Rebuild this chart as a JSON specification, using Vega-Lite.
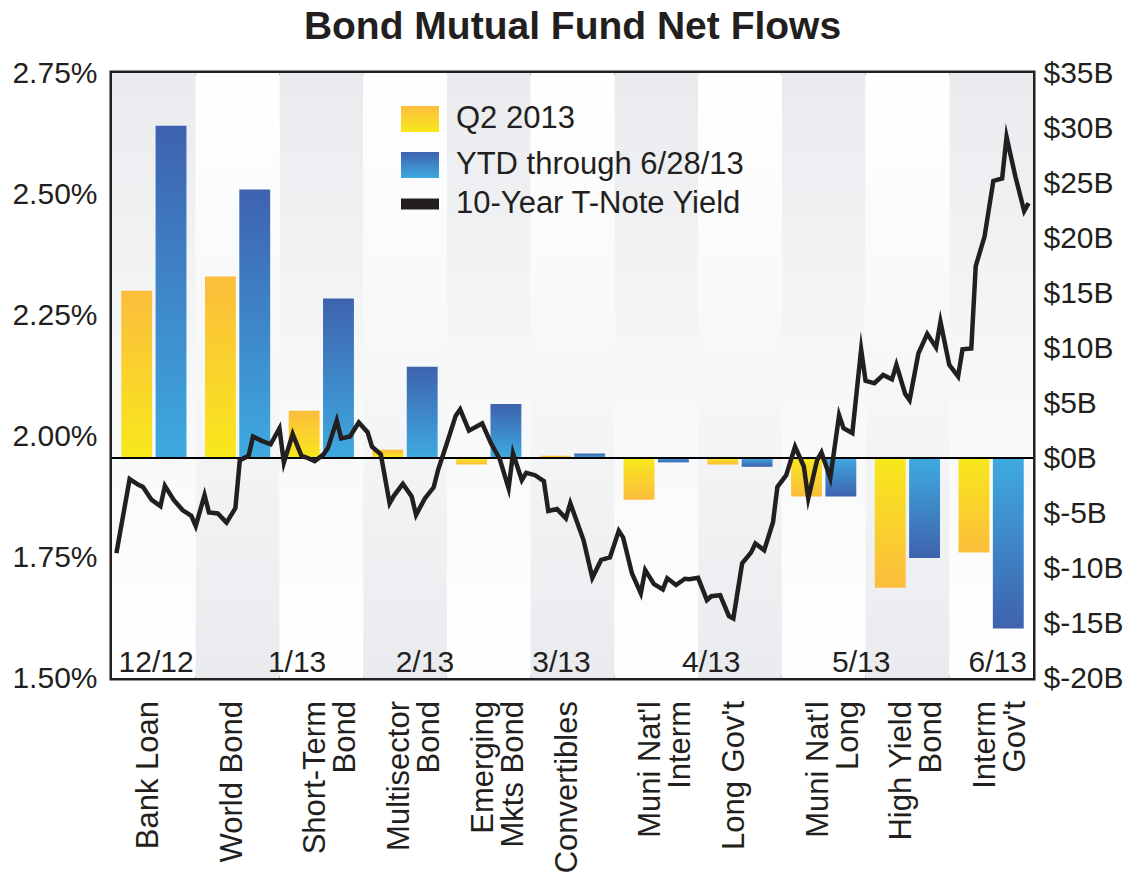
{
  "$schema": "https://vega.github.io/schema/vega-lite/v6.json",
  "width": 921,
  "height": 605,
  "autosize": {"type": "none"},
  "padding": {"left": 112, "top": 73, "right": 99, "bottom": 195},
  "background": "white",
  "title": {
    "text": "Bond Mutual Fund Net Flows",
    "font": "Liberation Sans",
    "fontSize": 39,
    "fontWeight": "bold",
    "color": "#231f20",
    "anchor": "middle",
    "frame": "group",
    "baseline": "alphabetic",
    "offset": -20
  },
  "datasets": {
    "categories": [
      {"category": "Bank Loan", "label": "Bank Loan"},
      {"category": "World Bond", "label": "World Bond"},
      {"category": "Short-Term Bond", "label": "Short-Term\nBond"},
      {"category": "Multisector Bond", "label": "Multisector\nBond"},
      {"category": "Emerging Mkts Bond", "label": "Emerging\nMkts Bond"},
      {"category": "Convertibles", "label": "Convertibles"},
      {"category": "Muni Nat'l Interm", "label": "Muni Nat'l\nInterm"},
      {"category": "Long Gov't", "label": "Long Gov't"},
      {"category": "Muni Nat'l Long", "label": "Muni Nat'l\nLong"},
      {"category": "High Yield Bond", "label": "High Yield\nBond"},
      {"category": "Interm Gov't", "label": "Interm\nGov't"}
    ],
    "funds": [
      {"category": "Bank Loan", "series": "Q2 2013", "flow": 15.2},
      {"category": "Bank Loan", "series": "YTD through 6/28/13", "flow": 30.2},
      {"category": "World Bond", "series": "Q2 2013", "flow": 16.5},
      {"category": "World Bond", "series": "YTD through 6/28/13", "flow": 24.4},
      {"category": "Short-Term Bond", "series": "Q2 2013", "flow": 4.3},
      {"category": "Short-Term Bond", "series": "YTD through 6/28/13", "flow": 14.5},
      {"category": "Multisector Bond", "series": "Q2 2013", "flow": 0.75},
      {"category": "Multisector Bond", "series": "YTD through 6/28/13", "flow": 8.3},
      {"category": "Emerging Mkts Bond", "series": "Q2 2013", "flow": -0.6},
      {"category": "Emerging Mkts Bond", "series": "YTD through 6/28/13", "flow": 4.9},
      {"category": "Convertibles", "series": "Q2 2013", "flow": 0.2},
      {"category": "Convertibles", "series": "YTD through 6/28/13", "flow": 0.4},
      {"category": "Muni Nat'l Interm", "series": "Q2 2013", "flow": -3.8},
      {"category": "Muni Nat'l Interm", "series": "YTD through 6/28/13", "flow": -0.4},
      {"category": "Long Gov't", "series": "Q2 2013", "flow": -0.6},
      {"category": "Long Gov't", "series": "YTD through 6/28/13", "flow": -0.8},
      {"category": "Muni Nat'l Long", "series": "Q2 2013", "flow": -3.5},
      {"category": "Muni Nat'l Long", "series": "YTD through 6/28/13", "flow": -3.5},
      {"category": "High Yield Bond", "series": "Q2 2013", "flow": -11.8},
      {"category": "High Yield Bond", "series": "YTD through 6/28/13", "flow": -9.1},
      {"category": "Interm Gov't", "series": "Q2 2013", "flow": -8.6},
      {"category": "Interm Gov't", "series": "YTD through 6/28/13", "flow": -15.5}
    ],
    "yields": [
      {"date": "2012-12-03", "yield": 1.758},
      {"date": "2012-12-06", "yield": 1.911},
      {"date": "2012-12-08", "yield": 1.899},
      {"date": "2012-12-09", "yield": 1.895},
      {"date": "2012-12-11", "yield": 1.868},
      {"date": "2012-12-13", "yield": 1.855},
      {"date": "2012-12-14", "yield": 1.897},
      {"date": "2012-12-16", "yield": 1.868},
      {"date": "2012-12-18", "yield": 1.847},
      {"date": "2012-12-20", "yield": 1.835},
      {"date": "2012-12-21", "yield": 1.814},
      {"date": "2012-12-23", "yield": 1.878},
      {"date": "2012-12-24", "yield": 1.842},
      {"date": "2012-12-26", "yield": 1.840},
      {"date": "2012-12-28", "yield": 1.821},
      {"date": "2012-12-30", "yield": 1.851},
      {"date": "2012-12-31", "yield": 1.950},
      {"date": "2013-01-02", "yield": 1.959},
      {"date": "2013-01-03", "yield": 1.999},
      {"date": "2013-01-05", "yield": 1.990},
      {"date": "2013-01-07", "yield": 1.983},
      {"date": "2013-01-09", "yield": 2.016},
      {"date": "2013-01-10", "yield": 1.945},
      {"date": "2013-01-12", "yield": 2.004},
      {"date": "2013-01-14", "yield": 1.959},
      {"date": "2013-01-15", "yield": 1.956},
      {"date": "2013-01-17", "yield": 1.948},
      {"date": "2013-01-19", "yield": 1.962},
      {"date": "2013-01-20", "yield": 1.975},
      {"date": "2013-01-22", "yield": 2.032},
      {"date": "2013-01-23", "yield": 1.995},
      {"date": "2013-01-25", "yield": 1.999},
      {"date": "2013-01-27", "yield": 2.028},
      {"date": "2013-01-29", "yield": 2.008},
      {"date": "2013-01-30", "yield": 1.978},
      {"date": "2013-02-01", "yield": 1.962},
      {"date": "2013-02-03", "yield": 1.861},
      {"date": "2013-02-04", "yield": 1.877},
      {"date": "2013-02-06", "yield": 1.901},
      {"date": "2013-02-08", "yield": 1.875},
      {"date": "2013-02-09", "yield": 1.837},
      {"date": "2013-02-11", "yield": 1.871},
      {"date": "2013-02-13", "yield": 1.894},
      {"date": "2013-02-14", "yield": 1.930},
      {"date": "2013-02-16", "yield": 1.985},
      {"date": "2013-02-18", "yield": 2.042},
      {"date": "2013-02-19", "yield": 2.055},
      {"date": "2013-02-21", "yield": 2.011},
      {"date": "2013-02-24", "yield": 2.026},
      {"date": "2013-02-26", "yield": 1.985},
      {"date": "2013-02-28", "yield": 1.952},
      {"date": "2013-03-02", "yield": 1.892},
      {"date": "2013-03-03", "yield": 1.964},
      {"date": "2013-03-05", "yield": 1.909},
      {"date": "2013-03-06", "yield": 1.924},
      {"date": "2013-03-08", "yield": 1.919},
      {"date": "2013-03-10", "yield": 1.907},
      {"date": "2013-03-11", "yield": 1.845},
      {"date": "2013-03-13", "yield": 1.849},
      {"date": "2013-03-15", "yield": 1.830},
      {"date": "2013-03-16", "yield": 1.861},
      {"date": "2013-03-19", "yield": 1.785},
      {"date": "2013-03-21", "yield": 1.707},
      {"date": "2013-03-23", "yield": 1.744},
      {"date": "2013-03-25", "yield": 1.749},
      {"date": "2013-03-27", "yield": 1.804},
      {"date": "2013-03-28", "yield": 1.790},
      {"date": "2013-03-30", "yield": 1.716},
      {"date": "2013-04-01", "yield": 1.675},
      {"date": "2013-04-02", "yield": 1.723},
      {"date": "2013-04-04", "yield": 1.694},
      {"date": "2013-04-06", "yield": 1.683},
      {"date": "2013-04-07", "yield": 1.706},
      {"date": "2013-04-09", "yield": 1.692},
      {"date": "2013-04-11", "yield": 1.705},
      {"date": "2013-04-12", "yield": 1.704},
      {"date": "2013-04-14", "yield": 1.707},
      {"date": "2013-04-16", "yield": 1.661},
      {"date": "2013-04-17", "yield": 1.669},
      {"date": "2013-04-19", "yield": 1.671},
      {"date": "2013-04-21", "yield": 1.628},
      {"date": "2013-04-22", "yield": 1.623},
      {"date": "2013-04-24", "yield": 1.737},
      {"date": "2013-04-26", "yield": 1.759},
      {"date": "2013-04-27", "yield": 1.778},
      {"date": "2013-04-29", "yield": 1.764},
      {"date": "2013-05-01", "yield": 1.822},
      {"date": "2013-05-02", "yield": 1.895},
      {"date": "2013-05-04", "yield": 1.919},
      {"date": "2013-05-06", "yield": 1.978},
      {"date": "2013-05-08", "yield": 1.937},
      {"date": "2013-05-09", "yield": 1.871},
      {"date": "2013-05-11", "yield": 1.950},
      {"date": "2013-05-12", "yield": 1.966},
      {"date": "2013-05-14", "yield": 1.913},
      {"date": "2013-05-16", "yield": 2.043},
      {"date": "2013-05-17", "yield": 2.016},
      {"date": "2013-05-19", "yield": 2.006},
      {"date": "2013-05-21", "yield": 2.179},
      {"date": "2013-05-22", "yield": 2.114},
      {"date": "2013-05-24", "yield": 2.109},
      {"date": "2013-05-26", "yield": 2.126},
      {"date": "2013-05-28", "yield": 2.117},
      {"date": "2013-05-29", "yield": 2.147},
      {"date": "2013-05-31", "yield": 2.087},
      {"date": "2013-06-01", "yield": 2.074},
      {"date": "2013-06-03", "yield": 2.171},
      {"date": "2013-06-05", "yield": 2.211},
      {"date": "2013-06-07", "yield": 2.183},
      {"date": "2013-06-08", "yield": 2.236},
      {"date": "2013-06-10", "yield": 2.147},
      {"date": "2013-06-12", "yield": 2.123},
      {"date": "2013-06-13", "yield": 2.179},
      {"date": "2013-06-15", "yield": 2.181},
      {"date": "2013-06-16", "yield": 2.351},
      {"date": "2013-06-18", "yield": 2.412},
      {"date": "2013-06-20", "yield": 2.527},
      {"date": "2013-06-22", "yield": 2.532},
      {"date": "2013-06-23", "yield": 2.618},
      {"date": "2013-06-25", "yield": 2.536},
      {"date": "2013-06-27", "yield": 2.465},
      {"date": "2013-06-28", "yield": 2.481}
    ],
    "months": [
      {"date": "2012-12-12", "label": "12/12"},
      {"date": "2013-01-13", "label": "1/13"},
      {"date": "2013-02-11", "label": "2/13"},
      {"date": "2013-03-14", "label": "3/13"},
      {"date": "2013-04-17", "label": "4/13"},
      {"date": "2013-05-21", "label": "5/13"},
      {"date": "2013-06-21", "label": "6/13"}
    ]
  },
  "layer": [
    {
      "layer": [
        {
          "data": {"name": "categories"},
          "transform": [
            {"filter": {"field": "category", "oneOf": ["Bank Loan", "Short-Term Bond", "Emerging Mkts Bond", "Muni Nat'l Interm", "Muni Nat'l Long", "Interm Gov't"]}}
          ],
          "mark": {
            "type": "rect",
            "color": {"gradient": "linear", "x1": 0, "y1": 0, "x2": 0, "y2": 1, "stops": [{"offset": 0, "color": "#e9ebee"}, {"offset": 0.5, "color": "#f6f7f8"}, {"offset": 1, "color": "#ffffff"}]}
          },
          "encoding": {
            "x": {
              "field": "category", "type": "nominal",
              "scale": {"domain": ["Bank Loan", "World Bond", "Short-Term Bond", "Multisector Bond", "Emerging Mkts Bond", "Convertibles", "Muni Nat'l Interm", "Long Gov't", "Muni Nat'l Long", "High Yield Bond", "Interm Gov't"], "paddingInner": 0, "paddingOuter": 0},
              "axis": null
            },
            "y": {
              "datum": 35, "type": "quantitative",
              "scale": {"domain": [-20, 35], "nice": false, "zero": false},
              "axis": {
                "title": null, "orient": "right", "values": [-20, -15, -10, -5, 0, 5, 10, 15, 20, 25, 30, 35],
                "labelExpr": "'$' + datum.value + 'B'", "labelFontSize": 30, "labelFont": "Liberation Sans",
                "labelColor": "#231f20", "ticks": false, "tickSize": 0, "domain": false, "grid": false,
                "labelPadding": 10, "labelOverlap": false
              }
            },
            "y2": {"datum": -20}
          }
        },
        {
          "data": {"name": "categories"},
          "transform": [
            {"filter": {"field": "category", "oneOf": ["World Bond", "Multisector Bond", "Convertibles", "Long Gov't", "High Yield Bond"]}}
          ],
          "mark": {
            "type": "rect",
            "color": {"gradient": "linear", "x1": 0, "y1": 0, "x2": 0, "y2": 1, "stops": [{"offset": 0, "color": "#ffffff"}, {"offset": 0.5, "color": "#f6f7f8"}, {"offset": 1, "color": "#e9ebee"}]}
          },
          "encoding": {
            "x": {"field": "category", "type": "nominal", "axis": null},
            "y": {"datum": 35, "type": "quantitative"},
            "y2": {"datum": -20}
          }
        },
        {
          "data": {"name": "funds"},
          "transform": [{"filter": "datum.series === 'Q2 2013' && datum.flow >= 0"}],
          "mark": {
            "type": "bar",
            "color": {"gradient": "linear", "x1": 0, "y1": 0, "x2": 0, "y2": 1, "stops": [{"offset": 0, "color": "#fbbd3c"}, {"offset": 1, "color": "#f8e81c"}]}
          },
          "encoding": {
            "x": {"field": "category", "type": "nominal", "axis": null},
            "xOffset": {"field": "series", "type": "nominal", "scale": {"domain": ["Q2 2013", "YTD through 6/28/13"], "paddingInner": 0.1, "paddingOuter": 0.27}},
            "y": {"field": "flow", "type": "quantitative"}
          }
        },
        {
          "data": {"name": "funds"},
          "transform": [{"filter": "datum.series === 'Q2 2013' && datum.flow < 0"}],
          "mark": {
            "type": "bar",
            "color": {"gradient": "linear", "x1": 0, "y1": 0, "x2": 0, "y2": 1, "stops": [{"offset": 0, "color": "#f8e81c"}, {"offset": 1, "color": "#fbbd3c"}]}
          },
          "encoding": {
            "x": {"field": "category", "type": "nominal", "axis": null},
            "xOffset": {"field": "series", "type": "nominal"},
            "y": {"field": "flow", "type": "quantitative"}
          }
        },
        {
          "data": {"name": "funds"},
          "transform": [{"filter": "datum.series !== 'Q2 2013' && datum.flow >= 0"}],
          "mark": {
            "type": "bar",
            "color": {"gradient": "linear", "x1": 0, "y1": 0, "x2": 0, "y2": 1, "stops": [{"offset": 0, "color": "#3e62ae"}, {"offset": 1, "color": "#3eaae0"}]}
          },
          "encoding": {
            "x": {"field": "category", "type": "nominal", "axis": null},
            "xOffset": {"field": "series", "type": "nominal"},
            "y": {"field": "flow", "type": "quantitative"}
          }
        },
        {
          "data": {"name": "funds"},
          "transform": [{"filter": "datum.series !== 'Q2 2013' && datum.flow < 0"}],
          "mark": {
            "type": "bar",
            "color": {"gradient": "linear", "x1": 0, "y1": 0, "x2": 0, "y2": 1, "stops": [{"offset": 0, "color": "#3eaae0"}, {"offset": 1, "color": "#3e62ae"}]}
          },
          "encoding": {
            "x": {"field": "category", "type": "nominal", "axis": null},
            "xOffset": {"field": "series", "type": "nominal"},
            "y": {"field": "flow", "type": "quantitative"}
          }
        },
        {
          "data": {"name": "funds"},
          "transform": [{"filter": "false"}],
          "mark": {"type": "bar"},
          "encoding": {
            "x": {"field": "category", "type": "nominal", "axis": null},
            "xOffset": {"field": "series", "type": "nominal"},
            "y": {"field": "flow", "type": "quantitative"},
            "color": {
              "field": "series", "type": "nominal",
              "scale": {
                "domain": ["Q2 2013", "YTD through 6/28/13"],
                "range": [
                  {"expr": "{gradient: 'linear', x1: 0, y1: 0, x2: 0, y2: 1, stops: [{offset: 0, color: '#fbbd3c'}, {offset: 1, color: '#f8e81c'}]}"},
                  {"expr": "{gradient: 'linear', x1: 0, y1: 0, x2: 0, y2: 1, stops: [{offset: 0, color: '#3e62ae'}, {offset: 1, color: '#3eaae0'}]}"}
                ]
              },
              "legend": {
                "orient": "none", "legendX": 289, "legendY": 27, "title": null, "padding": 0,
                "symbolType": "M-1,-0.68H1V0.68H-1Z", "symbolSize": 1444, "symbolStrokeWidth": 0,
                "labelFont": "Liberation Sans", "labelFontSize": 31, "labelColor": "#231f20",
                "labelOffset": 17, "rowPadding": 12, "labelLimit": 500
              }
            }
          }
        },
        {
          "data": {"name": "categories"},
          "mark": {"type": "text", "angle": 270, "align": "right", "baseline": "middle", "dx": -23, "dy": -5, "lineBreak": "\n", "lineHeight": 30, "font": "Liberation Sans", "fontSize": 31, "color": "#231f20"},
          "encoding": {
            "x": {"field": "category", "type": "nominal", "axis": null},
            "y": {"datum": -20, "type": "quantitative"},
            "text": {"field": "label"}
          }
        },
        {
          "data": {"name": "funds"},
          "mark": {"type": "rule", "color": "#000000", "strokeWidth": 2},
          "encoding": {
            "y": {"datum": 0, "type": "quantitative"}
          }
        }
      ]
    },
    {
      "layer": [
        {
          "data": {"name": "yields"},
          "mark": {"type": "line", "color": "#231f20", "strokeWidth": 4.5, "strokeJoin": "miter", "strokeMiterLimit": 10},
          "encoding": {
            "x": {
              "field": "date", "type": "temporal",
              "scale": {"type": "utc", "nice": false, "domain": [{"year": 2012, "month": 12, "date": 2, "utc": true}, {"year": 2013, "month": 6, "date": 29, "utc": true}]},
              "axis": null
            },
            "y": {
              "field": "yield", "type": "quantitative",
              "scale": {"domain": [1.5, 2.75], "nice": false, "zero": false},
              "axis": {
                "title": null, "orient": "left", "values": [1.5, 1.75, 2, 2.25, 2.5, 2.75],
                "labelExpr": "format(datum.value, '.2f') + '%'", "labelFontSize": 30,
                "labelFont": "Liberation Sans", "labelColor": "#231f20", "ticks": false, "tickSize": 0,
                "domain": false, "grid": false, "labelPadding": 15, "labelOverlap": false
              }
            }
          }
        },
        {
          "data": {"name": "yields"},
          "transform": [{"filter": "false"}],
          "mark": {"type": "square", "opacity": 1},
          "encoding": {
            "x": {"field": "date", "type": "temporal", "axis": null},
            "y": {"field": "yield", "type": "quantitative"},
            "color": {
              "datum": "10-Year T-Note Yield",
              "scale": {"domain": ["10-Year T-Note Yield"], "range": ["#231f20"]},
              "legend": {
                "orient": "none", "legendX": 289, "legendY": 112, "title": null, "padding": 0,
                "symbolType": "M-1,-0.29H1V0.29H-1Z", "symbolSize": 1444, "symbolStrokeWidth": 0, "symbolOpacity": 1,
                "labelFont": "Liberation Sans", "labelFontSize": 31, "labelColor": "#231f20",
                "labelOffset": 17, "labelLimit": 500
              }
            }
          }
        },
        {
          "data": {"name": "months"},
          "mark": {"type": "text", "font": "Liberation Sans", "fontSize": 30, "color": "#231f20", "baseline": "alphabetic", "dy": -6},
          "encoding": {
            "x": {"field": "date", "type": "temporal", "axis": null},
            "y": {"datum": 1.5, "type": "quantitative"},
            "text": {"field": "label"}
          }
        }
      ]
    }
  ],
  "resolve": {"scale": {"x": "independent", "y": "independent", "color": "independent"}},
  "config": {
    "font": "Liberation Sans",
    "view": {"stroke": "#231f20", "strokeWidth": 5}
  }
}
